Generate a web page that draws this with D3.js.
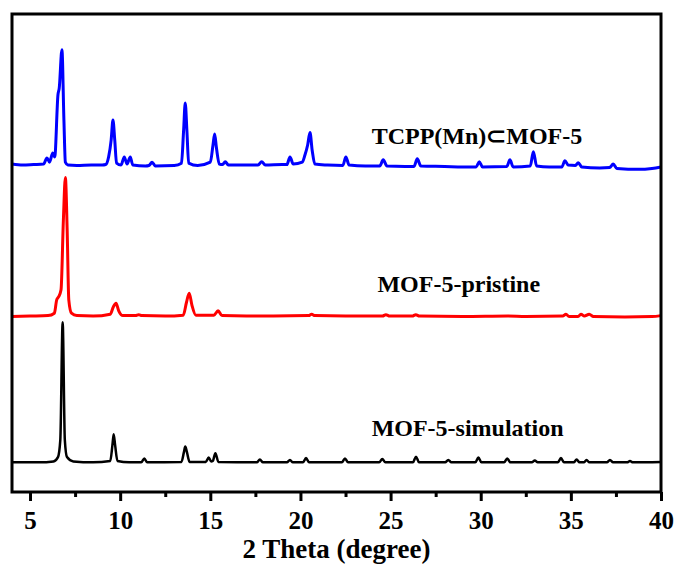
<!DOCTYPE html>
<html>
<head>
<meta charset="utf-8">
<script src="https://cdn.jsdelivr.net/npm/d3@7"></script>
<style>
  body { margin: 0; background: #fff; }
  .tick text { font-family: "Liberation Serif", "Times New Roman", serif; font-weight: bold; }
  .label { font-family: "Liberation Serif", "Times New Roman", serif; font-weight: bold; }
</style>
</head>
<body>
<script>
// XRD patterns: 2 theta (degree) and intensity (a.u., traces stacked with offsets)

var seriesNames = ["TCPP(Mn)\u2282MOF-5", "MOF-5-pristine", "MOF-5-simulation"];

var tcppTheta = [4.0, 4.6, 5.2, 5.75, 5.94, 6.08, 6.26, 6.37, 6.55, 6.62, 6.77, 6.88, 6.96, 7.1,
  7.6, 8.4, 9.0, 9.2, 9.36, 9.5, 9.6, 9.7, 9.8, 10.05, 10.23, 10.38, 10.56, 10.7, 11.4, 11.6,
  11.77, 11.95, 13.0, 13.4, 13.52, 13.61, 13.7, 13.8, 14.3, 15.0, 15.15, 15.24, 15.34, 15.5,
  15.68, 15.83, 16.0, 17.0, 17.65, 17.85, 18.05, 19.0, 19.25, 19.42, 19.6, 20.1, 20.25, 20.4,
  20.53, 20.65, 20.8, 21.5, 22.35, 22.52, 22.7, 23.6, 24.4, 24.59, 24.8, 25.8, 26.3, 26.48,
  26.68, 28.0, 29.0, 29.75, 29.92, 30.1, 31.45, 31.62, 31.8, 32.75, 32.92, 33.1, 33.8, 34.5,
  34.67, 34.85, 35.25, 35.41, 35.6, 36.6, 37.15, 37.35, 37.55, 38.8, 39.5, 40.0];
var tcppInt = [68.6, 68.4, 68.5, 68.6, 69.9, 69.0, 70.9, 70.1, 83.1, 84.5, 92.5, 77.8, 69.0, 68.4,
  68.3, 68.4, 68.4, 68.5, 70.1, 73.6, 77.8, 73.6, 68.8, 68.4, 70.1, 68.6, 70.1, 68.4, 68.2, 68.3,
  69.0, 68.2, 68.3, 68.8, 75.7, 81.4, 75.7, 68.8, 68.3, 69.0, 72.6, 74.9, 72.0, 68.6,
  68.5, 69.1, 68.4, 68.4, 68.4, 69.1, 68.4, 68.5, 68.5, 70.1, 68.6, 69.0, 70.5, 72.6,
  75.2, 71.5, 68.6, 68.4, 68.3, 70.1, 68.4, 68.2, 68.2, 69.5, 68.2, 68.1, 68.1, 69.7,
  68.2, 68.1, 68.0, 68.0, 69.1, 68.0, 68.1, 69.5, 68.0, 68.2, 71.2, 68.2, 68.0, 68.0,
  69.3, 68.4, 68.3, 68.9, 68.0, 67.8, 67.9, 68.6, 67.7, 67.5, 67.7, 68.0];

var pristineTheta = [4.0, 5.0, 6.0, 6.35, 6.48, 6.58, 6.72, 6.85, 6.96, 7.06, 7.15, 7.3, 7.6,
  8.5, 9.45, 9.62, 9.77, 9.92, 10.15, 10.85, 11.03, 11.2, 12.5, 13.5, 13.68, 13.83, 13.98, 14.2,
  15.2, 15.43, 15.65, 17.0, 18.5, 20.45, 20.62, 20.8, 22.5, 24.55, 24.74, 24.95, 26.2, 26.4,
  26.6, 29.0, 31.5, 32.5, 34.55, 34.73, 34.9, 35.4, 35.56, 35.75, 36.02, 36.25, 38.0, 39.5, 40.0];
var pristineInt = [36.7, 36.8, 36.9, 37.4, 40.2, 40.8, 42.3, 56.9, 65.8, 54.8, 40.2, 37.4, 36.9,
  36.8, 37.2, 38.7, 39.5, 37.9, 36.9, 36.9, 37.1, 36.9, 36.8, 37.0, 39.7, 41.6, 39.1, 37.0,
  37.0, 37.9, 36.9, 36.8, 36.8, 36.9, 37.2, 36.9, 36.8, 36.8, 37.1, 36.8, 36.8, 37.1,
  36.8, 36.7, 36.8, 36.7, 36.8, 37.2, 36.7, 36.7, 37.2, 36.8, 37.2, 36.7, 36.6, 36.7, 36.9];

var simTheta = [4.0, 5.5, 6.3, 6.55, 6.68, 6.81, 6.93, 7.05, 7.4, 8.5, 9.45, 9.57, 9.64, 9.72,
  9.85, 10.5, 11.17, 11.34, 11.5, 13.4, 13.54, 13.61, 13.7, 13.85, 14.75, 14.91, 15.05, 15.14,
  15.28, 15.45, 17.58, 17.75, 17.92, 19.25, 19.42, 19.58, 20.14, 20.31, 20.48, 22.3, 22.47,
  22.64, 24.37, 24.54, 24.71, 26.24, 26.41, 26.58, 28.03, 28.2, 28.37, 29.7, 29.87, 30.04,
  31.3, 31.47, 31.64, 32.84, 33.0, 33.16, 34.28, 34.45, 34.62, 35.16, 35.32, 35.48, 35.72,
  35.87, 36.03, 37.0, 37.17, 37.34, 38.12, 38.28, 38.44, 40.0];
var simInt = [6.2, 6.2, 6.4, 7.3, 10.9, 35.5, 10.9, 7.3, 6.4, 6.2, 6.5, 9.8, 12.1, 9.8,
  6.5, 6.2, 6.2, 7.0, 6.2, 6.3, 8.4, 9.5, 8.4, 6.3, 6.3, 7.2, 6.4, 6.5,
  8.1, 6.3, 6.2, 6.8, 6.2, 6.2, 6.7, 6.2, 6.2, 7.1, 6.2, 6.2, 7.0,
  6.2, 6.2, 6.9, 6.2, 6.2, 7.4, 6.2, 6.2, 6.7, 6.2, 6.2, 7.2, 6.2,
  6.2, 7.0, 6.2, 6.2, 6.6, 6.2, 6.2, 7.1, 6.2, 6.2, 6.8, 6.2, 6.2,
  6.7, 6.2, 6.2, 6.7, 6.2, 6.2, 6.5, 6.2, 6.3];

var xTicks = [5, 10, 15, 20, 25, 30, 35, 40];
var xMinorTicks = [7.5, 12.5, 17.5, 22.5, 27.5, 32.5, 37.5];

// margins
var margin = {top: 14, right: 15, bottom: 78, left: 12},
    width = 676 - margin.left - margin.right,
    height = 570 - margin.top - margin.bottom;

var svg = d3.select("body")
    .append("svg")
    .attr("width", 676)
    .attr("height", 570)
    .append("g")
    .attr("transform", "translate(" + margin.left + "," + margin.top + ")");

var xScale = d3.scaleLinear().domain([4, 40]).range([0, width]),
    yScale = d3.scaleLinear().domain([0, 100]).range([height, 0]);

var line = d3.line()
    .x(function(d) { return xScale(d[0]); })
    .y(function(d) { return yScale(d[1]); })
    .curve(d3.curveMonotoneX);

var traces = [
  {theta: tcppTheta, value: tcppInt, color: "#0000ff", w: 3},
  {theta: pristineTheta, value: pristineInt, color: "#ff0000", w: 3},
  {theta: simTheta, value: simInt, color: "#000000", w: 2.5}
];

traces.forEach(function(t) {
  var pts = t.theta.map(function(th, i) { return [th, t.value[i]]; });
  svg.append("path")
    .datum(pts)
    .attr("fill", "none")
    .attr("stroke", t.color)
    .attr("stroke-width", t.w)
    .attr("stroke-linejoin", "round")
    .attr("d", line);
});

// series labels (anchor at start, in data coordinates)
var labelPos = [[23.95, 72.9], [24.27, 41.9], [23.95, 11.7]];
svg.selectAll(".label")
  .data(seriesNames)
  .enter().append("text")
    .attr("class", "label")
    .attr("x", function(d, i) { return xScale(labelPos[i][0]); })
    .attr("y", function(d, i) { return yScale(labelPos[i][1]); })
    .style("font-size", "24px")
    .text(function(d) { return d; });

// x axis, major + minor ticks
var xAxis = svg.append("g")
    .attr("transform", "translate(0," + height + ")")
    .call(d3.axisBottom(xScale).tickValues(xTicks).tickSize(9).tickPadding(10)
      .tickFormat(d3.format("d")));
xAxis.select(".domain").remove();
xAxis.selectAll("line").attr("stroke-width", 3);
xAxis.selectAll("text").style("font-size", "25px").attr("fill", "#000");

var xMinor = svg.append("g")
    .attr("transform", "translate(0," + height + ")")
    .call(d3.axisBottom(xScale).tickValues(xMinorTicks).tickSize(5).tickFormat(""));
xMinor.select(".domain").remove();
xMinor.selectAll("line").attr("stroke-width", 3);

// frame
svg.append("rect")
    .attr("width", width)
    .attr("height", height)
    .attr("fill", "none")
    .attr("stroke", "#000")
    .attr("stroke-width", 3);

svg.append("text")
    .attr("class", "label")
    .attr("x", width / 2)
    .attr("y", height + 66)
    .attr("text-anchor", "middle")
    .style("font-size", "27px")
    .text("2 Theta (degree)");
</script>
</body>
</html>
